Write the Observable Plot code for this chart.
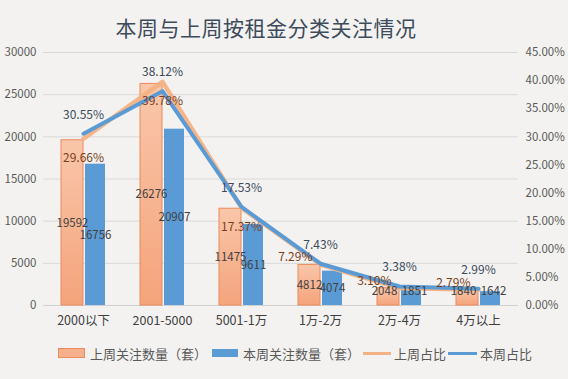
<!DOCTYPE html>
<html><head><meta charset="utf-8">
<script src="https://cdn.jsdelivr.net/npm/d3@7"></script>
<script src="https://cdn.jsdelivr.net/npm/@observablehq/plot@0.6"></script>
<style>
body{margin:0;background:#f3f2f0;font-family:"Noto Sans CJK SC","Noto Sans",sans-serif;}
#wrap{position:relative;width:568px;height:379px;overflow:hidden;background:#f3f2f0;}
#title{position:absolute;left:0;top:12px;width:532px;text-align:center;font-size:21px;color:#3d4b5b;letter-spacing:0.5px;}
#chart{position:absolute;left:0;top:36px;}
#legend{position:absolute;left:0;top:343px;width:568px;height:20px;font-size:13px;color:#595959;}
.li{position:absolute;top:0;display:flex;align-items:center;height:20px;white-space:nowrap;}
.sw{display:inline-block;margin-right:4px;}
</style></head>
<body><div id="wrap">
<div id="title">本周与上周按租金分类关注情况</div>
<div id="chart"></div>
<div id="legend"></div>
</div>
<script>
const categories = ["2000以下","2001-5000","5001-1万","1万-2万","2万-4万","4万以上"];
const lastWeekCount = [19592, 26276, 11475, 4812, 2048, 1840];
const thisWeekCount = [16756, 20907, 9611, 4074, 1851, 1642];
const lastWeekPct = [29.66, 39.78, 17.37, 7.29, 3.10, 2.79];
const thisWeekPct = [30.55, 38.12, 17.53, 7.43, 3.38, 2.99];
const leftTicks = [0,5000,10000,15000,20000,25000,30000];
const rightTicks = [0,5,10,15,20,25,30,35,40,45];
const legendLabels = ["上周关注数量（套）","本周关注数量（套）","上周占比","本周占比"];

const yMax = 30000, pMax = 45;
const p2y = p => p / pMax * yMax;

const data = categories.map((c,i)=>({cat:c,i,last:lastWeekCount[i],cur:thisWeekCount[i],lp:lastWeekPct[i],cp:thisWeekPct[i]}));
const hi = data.filter(d=>d.lp>=10), lo = data.filter(d=>d.lp<10);
const fnt = '"Noto Sans CJK SC","Noto Sans",sans-serif';
const small = v => v < 2500;

const chart = Plot.plot({
  width:568, height:308,
  marginLeft:43, marginRight:50, marginTop:16, marginBottom:39,
  style:{background:"transparent", fontFamily:fnt, fontSize:"12px", color:"#595959"},
  x:{domain:categories, paddingInner:0.72, paddingOuter:0.36, label:null},
  y:{domain:[0,yMax], label:null},
  marks:[
    Plot.gridY(leftTicks.filter(d=>d>0), {stroke:"#d9d9d9", strokeOpacity:1, strokeWidth:1}),
    Plot.ruleY([0], {stroke:"#d0d0d0"}),
    Plot.axisY(leftTicks, {anchor:"left", tickSize:0, tickPadding:7, label:null, fill:"#595959", fontSize:11.5, tickFormat:d=>String(d)}),
    Plot.axisY(rightTicks.map(p2y), {anchor:"right", tickSize:0, tickPadding:7, label:null, fill:"#595959", fontSize:11.5, tickFormat:d=>(d/yMax*pMax).toFixed(2)+"%"}),
    Plot.axisX({tickSize:0, tickPadding:11, label:null, fill:"#404040", fontSize:12.5}),
    Plot.barY(data, {x:"cat", y:"last", dx:-11, fill:"url(#og)", stroke:"#ec8a5a", strokeWidth:1}),
    Plot.barY(data, {x:"cat", y:"cur", dx:12, insetLeft:1, insetRight:1, fill:"#5b9bd5"}),
    Plot.line(data, {x:"cat", y:d=>p2y(d.lp), stroke:"#f4b183", strokeWidth:4.5, strokeOpacity:0.95}),
    Plot.line(data, {x:"cat", y:d=>p2y(d.cp), stroke:"#5b9bd5", strokeWidth:4}),
    Plot.text(data.filter(d=>!small(d.last)), {x:"cat", y:d=>Math.max(d.last/2,1650), dx:-11, text:d=>String(d.last), fill:"#404040", fontSize:11.5}),
    Plot.text(data.filter(d=>small(d.last)), {x:"cat", y:d=>Math.max(d.last/2,1650), dx:-15, text:d=>String(d.last), fill:"#404040", fontSize:11.5}),
    Plot.text(data.filter(d=>!small(d.cur)), {x:"cat", y:d=>Math.max(d.cur/2,1650), dx:12, text:d=>String(d.cur), fill:"#404040", fontSize:11.5}),
    Plot.text(data.filter(d=>small(d.cur)), {x:"cat", y:d=>Math.max(d.cur/2,1650), dx:15, text:d=>String(d.cur), fill:"#404040", fontSize:11.5}),
    Plot.text(hi, {x:"cat", y:d=>p2y(d.lp), dy:19, text:d=>d.lp.toFixed(2)+"%", fill:"#7a3e1c", fontSize:12}),
    Plot.text(lo, {x:"cat", y:d=>p2y(d.lp), dx:-8, dy:-7, textAnchor:"end", text:d=>d.lp.toFixed(2)+"%", fill:"#7a3e1c", fontSize:12}),
    Plot.text(data, {x:"cat", y:d=>p2y(d.cp), dy:-19, text:d=>d.cp.toFixed(2)+"%", fill:"#3b4a5c", fontSize:12})
  ]
});
const ns = "http://www.w3.org/2000/svg";
const defs = document.createElementNS(ns,"defs");
defs.innerHTML = '<linearGradient id="og" x1="0" y1="0" x2="0" y2="1"><stop offset="0" stop-color="#f9c6aa"/><stop offset="1" stop-color="#f4a47b"/></linearGradient>';
chart.insertBefore(defs, chart.firstChild);
document.getElementById("chart").appendChild(chart);

const leg = document.getElementById("legend");
const lx = [58, 212, 363, 448];
legendLabels.forEach((t,i)=>{
  const d = document.createElement("div"); d.className="li"; d.style.left=lx[i]+"px";
  const s = document.createElement("span"); s.className="sw";
  if(i===0){s.style.cssText="width:25px;height:8px;background:#f6b08e;border:1px solid #ec8a5a;margin-right:5px";}
  else if(i===1){s.style.cssText="width:26px;height:8px;background:#5b9bd5;margin-right:5px";}
  else if(i===2){s.style.cssText="width:28px;height:3px;background:#f4b183;margin-right:3px";}
  else {s.style.cssText="width:29px;height:3px;background:#5b9bd5;margin-right:3px";}
  d.appendChild(s); d.appendChild(document.createTextNode(t)); leg.appendChild(d);
});
</script></body></html>
